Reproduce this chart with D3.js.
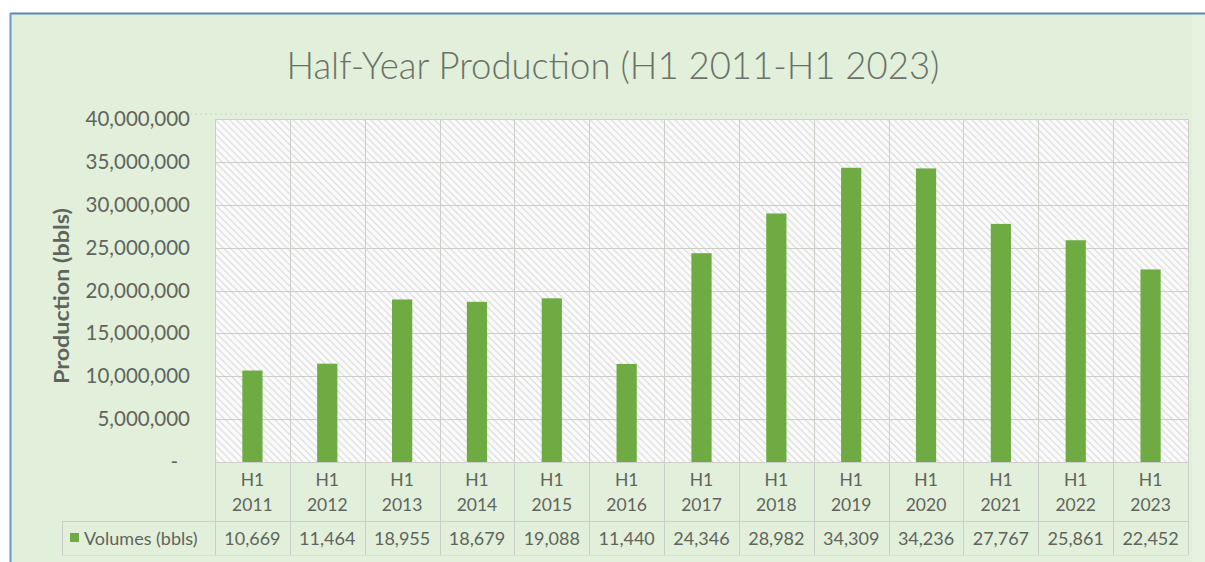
<!DOCTYPE html>
<html>
<head>
<meta charset="utf-8">
<script src="https://cdn.jsdelivr.net/npm/d3@7"></script>
<style>
  html, body { margin: 0; padding: 0; background: #ffffff; }
  svg { display: block; }
  text { font-family: Lato, "Open Sans", sans-serif; }
</style>
</head>
<body>
<svg id="chart" width="1205" height="562"></svg>
<script>
// Half-year production, thousands of barrels
const periods = ["H1 2011", "H1 2012", "H1 2013", "H1 2014", "H1 2015", "H1 2016", "H1 2017",
                 "H1 2018", "H1 2019", "H1 2020", "H1 2021", "H1 2022", "H1 2023"];
const volumesThousands = [10669, 11464, 18955, 18679, 19088, 11440, 24346,
                          28982, 34309, 34236, 27767, 25861, 22452];
const yTicks = [0, 5000000, 10000000, 15000000, 20000000, 25000000, 30000000, 35000000, 40000000];
const titleText = "Half-Year Production (H1 2011-H1 2023)";
const yAxisTitle = "Production (bbls)";
const seriesName = "Volumes (bbls)";

const W = 1205, H = 562;
const plot = { left: 215, right: 1188, top: 119, bottom: 462 };
const table = { left: 62, catBottom: 521, bottom: 555 };
const textColor = "#5f655d";
const gridColor = "#cbcfc8";
const barColor = "#6eab43";

const svg = d3.select("#chart");

// chart frame
svg.append("rect").attr("x", 10).attr("y", 13).attr("width", W - 10).attr("height", H - 13)
  .attr("fill", "#e2efda");
svg.append("rect").attr("x", 1192).attr("y", 14).attr("width", 13).attr("height", H - 14)
  .attr("fill", "#e7f2e1");
svg.append("line").attr("x1", 10).attr("x2", W).attr("y1", 13.5).attr("y2", 13.5)
  .attr("stroke", "#5b87b8").attr("stroke-width", 2);
svg.append("line").attr("x1", 10.5).attr("x2", 10.5).attr("y1", 13).attr("y2", H)
  .attr("stroke", "#6f98c4").attr("stroke-width", 2);

// hatch fill for plot area
const defs = svg.append("defs");
const pat = defs.append("pattern").attr("id", "hatch")
  .attr("patternUnits", "userSpaceOnUse").attr("width", 5).attr("height", 5)
  .attr("patternTransform", "rotate(45)");
pat.append("rect").attr("width", 5).attr("height", 5).attr("fill", "#fbfbfb");
pat.append("line").attr("x1", 0).attr("x2", 5).attr("y1", 2.5).attr("y2", 2.5)
  .attr("stroke", "#dcdcdc").attr("stroke-width", 1.2);

// scales
const x = d3.scaleBand().domain(periods).range([plot.left, plot.right]).padding(0);
const y = d3.scaleLinear().domain([0, 40000000]).range([plot.bottom, plot.top]);
const barW = x.bandwidth() * 0.27;

svg.append("rect").attr("x", plot.left).attr("y", plot.top)
  .attr("width", plot.right - plot.left).attr("height", plot.bottom - plot.top)
  .attr("fill", "url(#hatch)");

// faint dotted edge above plot
svg.append("line").attr("x1", plot.left - 30).attr("x2", plot.right + 2)
  .attr("y1", plot.top - 5).attr("y2", plot.top - 5)
  .attr("stroke", "#d3ddcd").attr("stroke-width", 1.5).attr("stroke-dasharray", "2,3");

// horizontal gridlines
svg.append("g").selectAll("line").data(yTicks).join("line")
  .attr("x1", plot.left).attr("x2", plot.right)
  .attr("y1", d => Math.round(y(d)) + 0.5).attr("y2", d => Math.round(y(d)) + 0.5)
  .attr("stroke", gridColor).attr("stroke-width", 1);

// vertical gridlines at category edges, running through the data table
const edges = periods.map(p => x(p)).concat([plot.right]);
svg.append("g").selectAll("line").data(edges).join("line")
  .attr("x1", d => Math.round(d) + 0.5).attr("x2", d => Math.round(d) + 0.5)
  .attr("y1", plot.top).attr("y2", table.bottom)
  .attr("stroke", gridColor).attr("stroke-width", 1);

// table rules
svg.append("line").attr("x1", table.left).attr("x2", plot.right)
  .attr("y1", table.catBottom + 0.5).attr("y2", table.catBottom + 0.5)
  .attr("stroke", gridColor);
svg.append("line").attr("x1", table.left).attr("x2", plot.right)
  .attr("y1", table.bottom + 0.5).attr("y2", table.bottom + 0.5)
  .attr("stroke", "#d6e2cf");
svg.append("line").attr("x1", table.left + 0.5).attr("x2", table.left + 0.5)
  .attr("y1", table.catBottom).attr("y2", table.bottom)
  .attr("stroke", gridColor);

// bars
svg.append("g").selectAll("rect").data(periods).join("rect")
  .attr("x", p => x(p) + (x.bandwidth() - barW) / 2)
  .attr("y", (p, i) => y(volumesThousands[i] * 1000))
  .attr("width", barW)
  .attr("height", (p, i) => y(0) - y(volumesThousands[i] * 1000))
  .attr("fill", barColor);

// y axis
const yAxis = d3.axisLeft(y).tickValues(yTicks).tickSize(0).tickPadding(25)
  .tickFormat(d => d === 0 ? "-" : d3.format(",")(d));
const yg = svg.append("g").attr("transform", "translate(" + plot.left + ",0)").call(yAxis);
yg.select(".domain").remove();
yg.selectAll("text").attr("font-size", 20.5).attr("fill", textColor)
  .attr("font-family", "Lato, sans-serif")
  .attr("dx", d => d === 0 ? -12 : 0);

// y axis title
svg.append("text")
  .attr("transform", "translate(69,296) rotate(-90)")
  .attr("text-anchor", "middle").attr("font-size", 20).attr("font-weight", 700)
  .attr("textLength", 176).attr("lengthAdjust", "spacingAndGlyphs")
  .attr("fill", textColor).text(yAxisTitle);

// category labels (two lines)
const cats = svg.append("g").selectAll("text").data(periods).join("text")
  .attr("text-anchor", "middle").attr("font-size", 17.5).attr("fill", textColor);
cats.append("tspan").attr("x", p => x(p) + x.bandwidth() / 2).attr("y", 486)
  .text(p => p.split(" ")[0]);
cats.append("tspan").attr("x", p => x(p) + x.bandwidth() / 2).attr("y", 511)
  .text(p => p.split(" ")[1]);

// table values
svg.append("g").selectAll("text").data(periods).join("text")
  .attr("x", p => x(p) + x.bandwidth() / 2).attr("y", 545)
  .attr("text-anchor", "middle").attr("font-size", 18).attr("fill", textColor)
  .text((p, i) => d3.format(",")(volumesThousands[i]));

// legend key in the table
svg.append("rect").attr("x", 70).attr("y", 533).attr("width", 9).attr("height", 9).attr("fill", barColor);
svg.append("text").attr("x", 84).attr("y", 545).attr("font-size", 18).attr("fill", textColor)
  .text(seriesName);

// title
svg.append("text").attr("x", 613).attr("y", 79).attr("text-anchor", "middle")
  .attr("font-size", 37).attr("font-weight", 300).attr("fill", "#6a7268")
  .attr("textLength", 653).attr("lengthAdjust", "spacingAndGlyphs")
  .text(titleText);
</script>
</body>
</html>
